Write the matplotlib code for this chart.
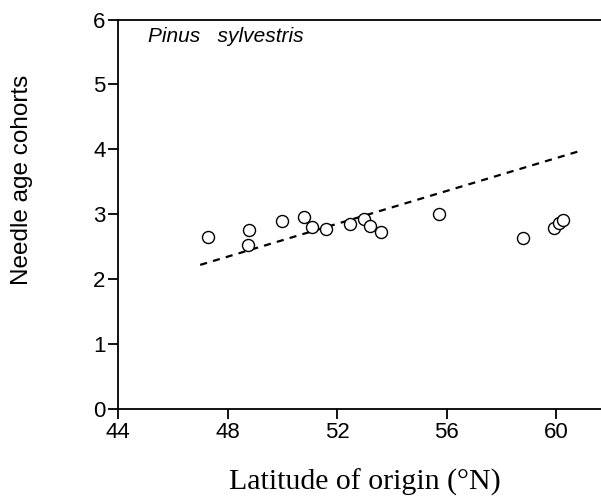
import matplotlib
matplotlib.use("Agg")
import matplotlib.pyplot as plt

lat = [47.30, 48.79, 48.76, 50.00, 50.79, 51.09, 51.59, 52.48, 52.99, 53.20, 53.59, 55.73, 58.79, 59.92, 60.09, 60.23]
cohorts = [2.65, 2.76, 2.53, 2.89, 2.95, 2.81, 2.77, 2.85, 2.92, 2.82, 2.72, 3.00, 2.64, 2.79, 2.86, 2.91]
fit_x = [47.0, 60.9]
fit_y = [2.22, 3.98]
xticks = [44, 48, 52, 56, 60]
yticks = [0, 1, 2, 3, 4, 5, 6]

fig = plt.figure(figsize=(6.01, 5.04), dpi=100)
ax = fig.add_axes([118/601, 1-409/504, 1-118/601, (409-19.5)/504])
ax.plot(fit_x, fit_y, linestyle=(0, (3.2, 2.8)), color='black', lw=1.6)
ax.scatter(lat, cohorts, s=75, facecolors='white', edgecolors='black', linewidths=1.0, zorder=3)
ax.set_xlim(44, 61.63)
ax.set_ylim(0, 6)
ax.set_xticks(xticks)
ax.set_yticks(yticks)
ax.spines['right'].set_visible(False)
for s in ['left', 'bottom', 'top']:
    ax.spines[s].set_linewidth(1.3)
ax.tick_params(direction='out', length=7, width=1.3, labelsize=16, pad=2)
for lab in ax.get_xticklabels() + ax.get_yticklabels():
    lab.set_fontfamily('Liberation Sans')
fig.text(22/601, 1-180/504, 'Needle age cohorts', rotation=90, fontsize=17.5,
         family='Liberation Sans', ha='center', va='center')
fig.text(365/601, 1-482/504, 'Latitude of origin (°N)', fontsize=21.5,
         family='Liberation Serif', ha='center', va='center')
fig.text(148/601, 1-27/504, 'Pinus   sylvestris', fontsize=15,
         family='Liberation Sans', style='italic', va='top', ha='left')
fig.savefig('out.png', dpi=100)
